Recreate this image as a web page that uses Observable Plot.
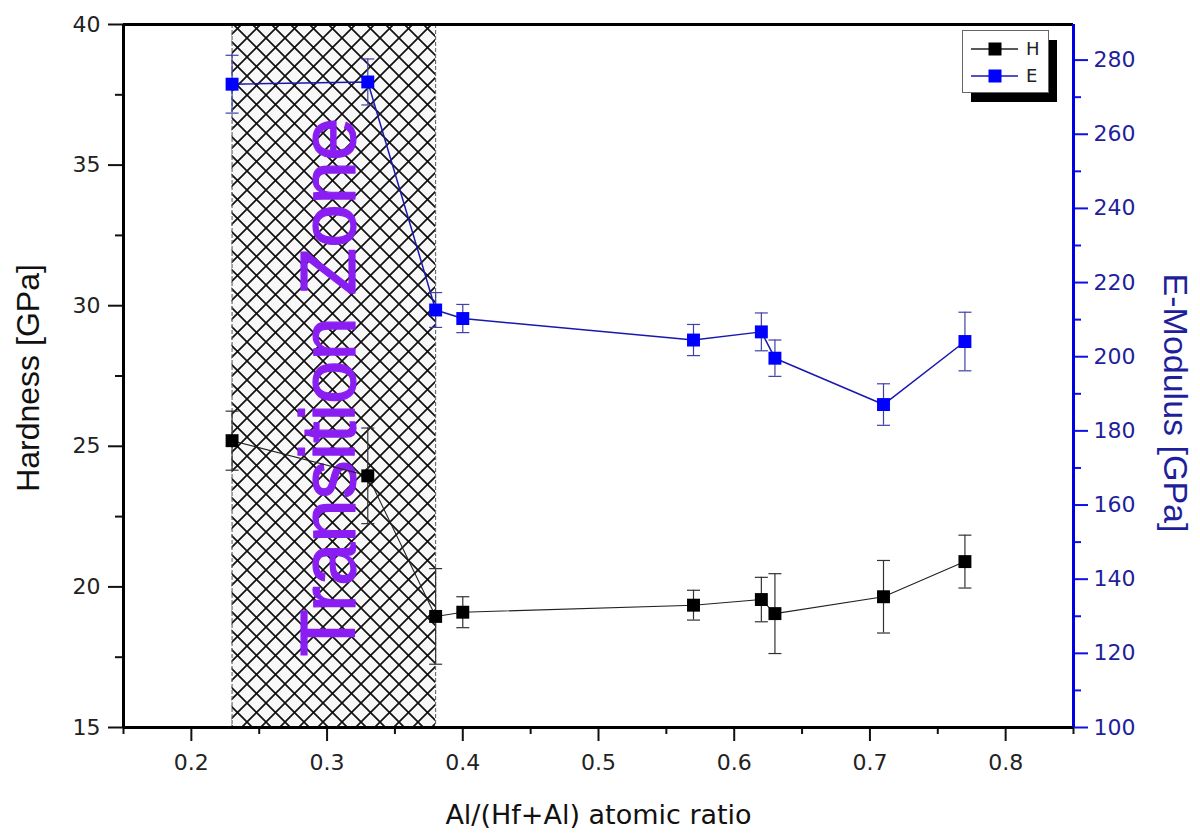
<!DOCTYPE html>
<html>
<head>
<meta charset="utf-8">
<script src="https://cdn.jsdelivr.net/npm/d3@7"></script>
<script src="https://cdn.jsdelivr.net/npm/@observablehq/plot@0.6"></script>
<style>
  html, body { margin: 0; padding: 0; background: #fff; }
  #wrap { position: relative; width: 1200px; height: 836px; overflow: hidden; }
  #wrap > svg.plot { position: absolute; left: 0; top: 0; }
  #legend { position: absolute; left: 960px; top: 28px; }
</style>
</head>
<body>
<div id="wrap"></div>
<script>
// ---- data ----
const ratio       = [0.23, 0.33, 0.38, 0.40, 0.57, 0.62, 0.63, 0.71, 0.77];
const hardness    = [25.2, 23.95, 18.95, 19.1, 19.35, 19.55, 19.05, 19.65, 20.9];
const hardnessErr = [1.05, 1.7, 1.7, 0.55, 0.53, 0.79, 1.42, 1.29, 0.94];
const modulus     = [273.5, 274.1, 212.6, 210.3, 204.5, 206.7, 199.6, 187.1, 204.1];
const modulusErr  = [7.8, 6.2, 4.7, 3.8, 4.2, 5.1, 4.9, 5.6, 7.9];

const xTicks       = [0.2, 0.3, 0.4, 0.5, 0.6, 0.7, 0.8];
const xMinorTicks  = [0.15, 0.25, 0.35, 0.45, 0.55, 0.65, 0.75, 0.85];
const hTicks       = [15, 20, 25, 30, 35, 40];
const hMinorTicks  = [17.5, 22.5, 27.5, 32.5, 37.5];
const eTicks       = [100, 120, 140, 160, 180, 200, 220, 240, 260, 280];
const eMinorTicks  = [110, 130, 150, 170, 190, 210, 230, 250, 270];

const xDomain = [0.15, 0.85];
const hDomain = [15, 40];
const eDomain = [100, 289.6];

const zone = [0.23, 0.38];
const zoneLabel = [{x: 0.3025, y: 27.1, text: "Transition Zone"}];

const seriesNames  = ["H", "E"];
const seriesColors = ["#000000", "#0000ff"];

const xTitle = "Al/(Hf+Al) atomic ratio";
const hTitle = "Hardness [GPa]";
const eTitle = "E-Modulus [GPa]";

// ---- helpers ----
const toH = e => hDomain[0] + (e - eDomain[0]) * (hDomain[1] - hDomain[0]) / (eDomain[1] - eDomain[0]);
const fromH = h => eDomain[0] + (h - hDomain[0]) * (eDomain[1] - eDomain[0]) / (hDomain[1] - hDomain[0]);

const rows = ratio.map((x, i) => ({
  x,
  H: hardness[i], Hlo: hardness[i] - hardnessErr[i], Hhi: hardness[i] + hardnessErr[i],
  E: toH(modulus[i]), Elo: toH(modulus[i] - modulusErr[i]), Ehi: toH(modulus[i] + modulusErr[i])
}));

const capSymbol = { draw(ctx) { ctx.moveTo(-6.5, 0); ctx.lineTo(6.5, 0); } };

const hatchDefs = () => {
  const defs = d3.create("svg:defs");
  const s = 19;
  const p = defs.append("pattern").attr("id", "xhatch")
    .attr("patternUnits", "userSpaceOnUse").attr("width", s).attr("height", s)
    .attr("x", 0).attr("y", 0);
  p.append("rect").attr("width", s).attr("height", s).attr("fill", "#f8f8f8");
  p.append("path").attr("d", `M-2,-2L${s+2},${s+2}M${s+2},-2L-2,${s+2}`)
    .attr("stroke", "#111").attr("stroke-width", 1.7).attr("fill", "none");
  return defs.node();
};

const tickFont = "DejaVu Sans";
const darkBlue = "#1f1f9c";
const zoneColor = "#8a1ef2";

const chart = Plot.plot({
  width: 1200,
  height: 836,
  marginLeft: 123,
  marginRight: 127,
  marginTop: 24,
  marginBottom: 109,
  x: {domain: xDomain, label: null},
  y: {domain: hDomain, label: null},
  style: {background: "#fff", overflow: "visible"},
  marks: [
    hatchDefs,
    Plot.rect([zone], {x1: d => d[0], x2: d => d[1], fill: "url(#xhatch)"}),
    Plot.ruleX(zone, {stroke: "#555", strokeWidth: 1, strokeDasharray: "4,2"}),
    Plot.text(zoneLabel, {x: "x", y: "y", text: "text", rotate: -90, fontSize: 78,
      fontFamily: "Liberation Sans", fill: zoneColor, stroke: zoneColor, strokeWidth: 1.2,
      lineAnchor: "middle", textAnchor: "middle"}),

    // E-modulus series
    Plot.line(rows, {x: "x", y: "E", stroke: "#1818b0", strokeWidth: 1.5}),
    Plot.ruleX(rows, {x: "x", y1: "Elo", y2: "Ehi", stroke: "#4040a8", strokeWidth: 1.2}),
    Plot.dot(rows, {x: "x", y: "Elo", symbol: capSymbol, stroke: "#4040a8", strokeWidth: 1.2, fill: "none"}),
    Plot.dot(rows, {x: "x", y: "Ehi", symbol: capSymbol, stroke: "#4040a8", strokeWidth: 1.2, fill: "none"}),
    Plot.dot(rows, {x: "x", y: "E", symbol: "square", r: 7.3, fill: seriesColors[1], stroke: "none"}),

    // Hardness series
    Plot.line(rows, {x: "x", y: "H", stroke: "#222", strokeWidth: 1.1}),
    Plot.ruleX(rows, {x: "x", y1: "Hlo", y2: "Hhi", stroke: "#333", strokeWidth: 1.2}),
    Plot.dot(rows, {x: "x", y: "Hlo", symbol: capSymbol, stroke: "#333", strokeWidth: 1.2, fill: "none"}),
    Plot.dot(rows, {x: "x", y: "Hhi", symbol: capSymbol, stroke: "#333", strokeWidth: 1.2, fill: "none"}),
    Plot.dot(rows, {x: "x", y: "H", symbol: "square", r: 7.3, fill: seriesColors[0], stroke: "none"}),

    // x axis
    Plot.axisX(xTicks, {tickSize: 14, tickPadding: 13, strokeWidth: 2, stroke: "#111",
      fill: "#222", fontSize: 22, fontFamily: tickFont, tickFormat: d3.format(".1f"), label: null}),
    Plot.axisX(xMinorTicks, {tickSize: 7, strokeWidth: 2, stroke: "#111", tickFormat: () => "", label: null}),
    // left axis
    Plot.axisY(hTicks, {anchor: "left", tickSize: 15, tickPadding: 8, strokeWidth: 2, stroke: "#111",
      fill: "#222", fontSize: 22, fontFamily: tickFont, tickFormat: d3.format("d"), label: null}),
    Plot.axisY(hMinorTicks, {anchor: "left", tickSize: 8, strokeWidth: 2, stroke: "#111", tickFormat: () => "", label: null}),
    // right axis
    Plot.axisY(eTicks.map(toH), {anchor: "right", tickSize: 14, tickPadding: 6, strokeWidth: 2, stroke: "#1010e0",
      fill: darkBlue, fontSize: 22, fontFamily: tickFont, tickFormat: v => String(Math.round(fromH(v))), label: null}),
    Plot.axisY(eMinorTicks.map(toH), {anchor: "right", tickSize: 7, strokeWidth: 2, stroke: "#1010e0", tickFormat: () => "", label: null}),

    // axis lines
    Plot.ruleY([hDomain[0], hDomain[1]], {stroke: "#000", strokeWidth: 3}),
    Plot.ruleX([xDomain[0]], {stroke: "#000", strokeWidth: 3}),
    Plot.ruleX([xDomain[1]], {stroke: "#0000e6", strokeWidth: 3}),

    // axis titles
    Plot.text([xTitle], {frameAnchor: "bottom", dy: 88, text: d => d, fontSize: 27,
      fontFamily: tickFont, fill: "#111", lineAnchor: "middle", textAnchor: "middle"}),
    Plot.text([hTitle], {frameAnchor: "left", dx: -95, dy: 2, text: d => d, rotate: -90, fontSize: 32,
      fontFamily: "Liberation Sans", fill: "#111", lineAnchor: "middle", textAnchor: "middle"}),
    Plot.text([eTitle], {frameAnchor: "right", dx: 101, dy: 27, text: d => d, rotate: 90, fontSize: 34,
      fontFamily: "Liberation Sans", fill: darkBlue, lineAnchor: "middle", textAnchor: "middle"})
  ]
});

const wrap = document.getElementById("wrap");
chart.classList.add("plot");
wrap.appendChild(chart);

// ---- legend (inside plot area, top-right) ----
const leg = d3.select(wrap).append("svg").attr("id", "legend").attr("width", 100).attr("height", 80);
leg.append("rect").attr("x", 11).attr("y", 12).attr("width", 86).attr("height", 62).attr("fill", "#000");
leg.append("rect").attr("x", 2.5).attr("y", 2.5).attr("width", 86).attr("height", 62)
  .attr("fill", "#fff").attr("stroke", "#666").attr("stroke-width", 1);
seriesNames.forEach((name, i) => {
  const y = 21 + i * 27;
  leg.append("line").attr("x1", 11).attr("x2", 58).attr("y1", y).attr("y2", y)
    .attr("stroke", i === 0 ? "#222" : "#1818b0").attr("stroke-width", 1.3);
  leg.append("rect").attr("x", 35 - 6.5).attr("y", y - 6.5).attr("width", 13).attr("height", 13)
    .attr("fill", seriesColors[i]);
  leg.append("text").attr("x", 66).attr("y", y).attr("dy", "0.36em")
    .attr("font-family", "DejaVu Sans").attr("font-size", 18).attr("fill", "#222").text(name);
});
</script>
</body>
</html>
